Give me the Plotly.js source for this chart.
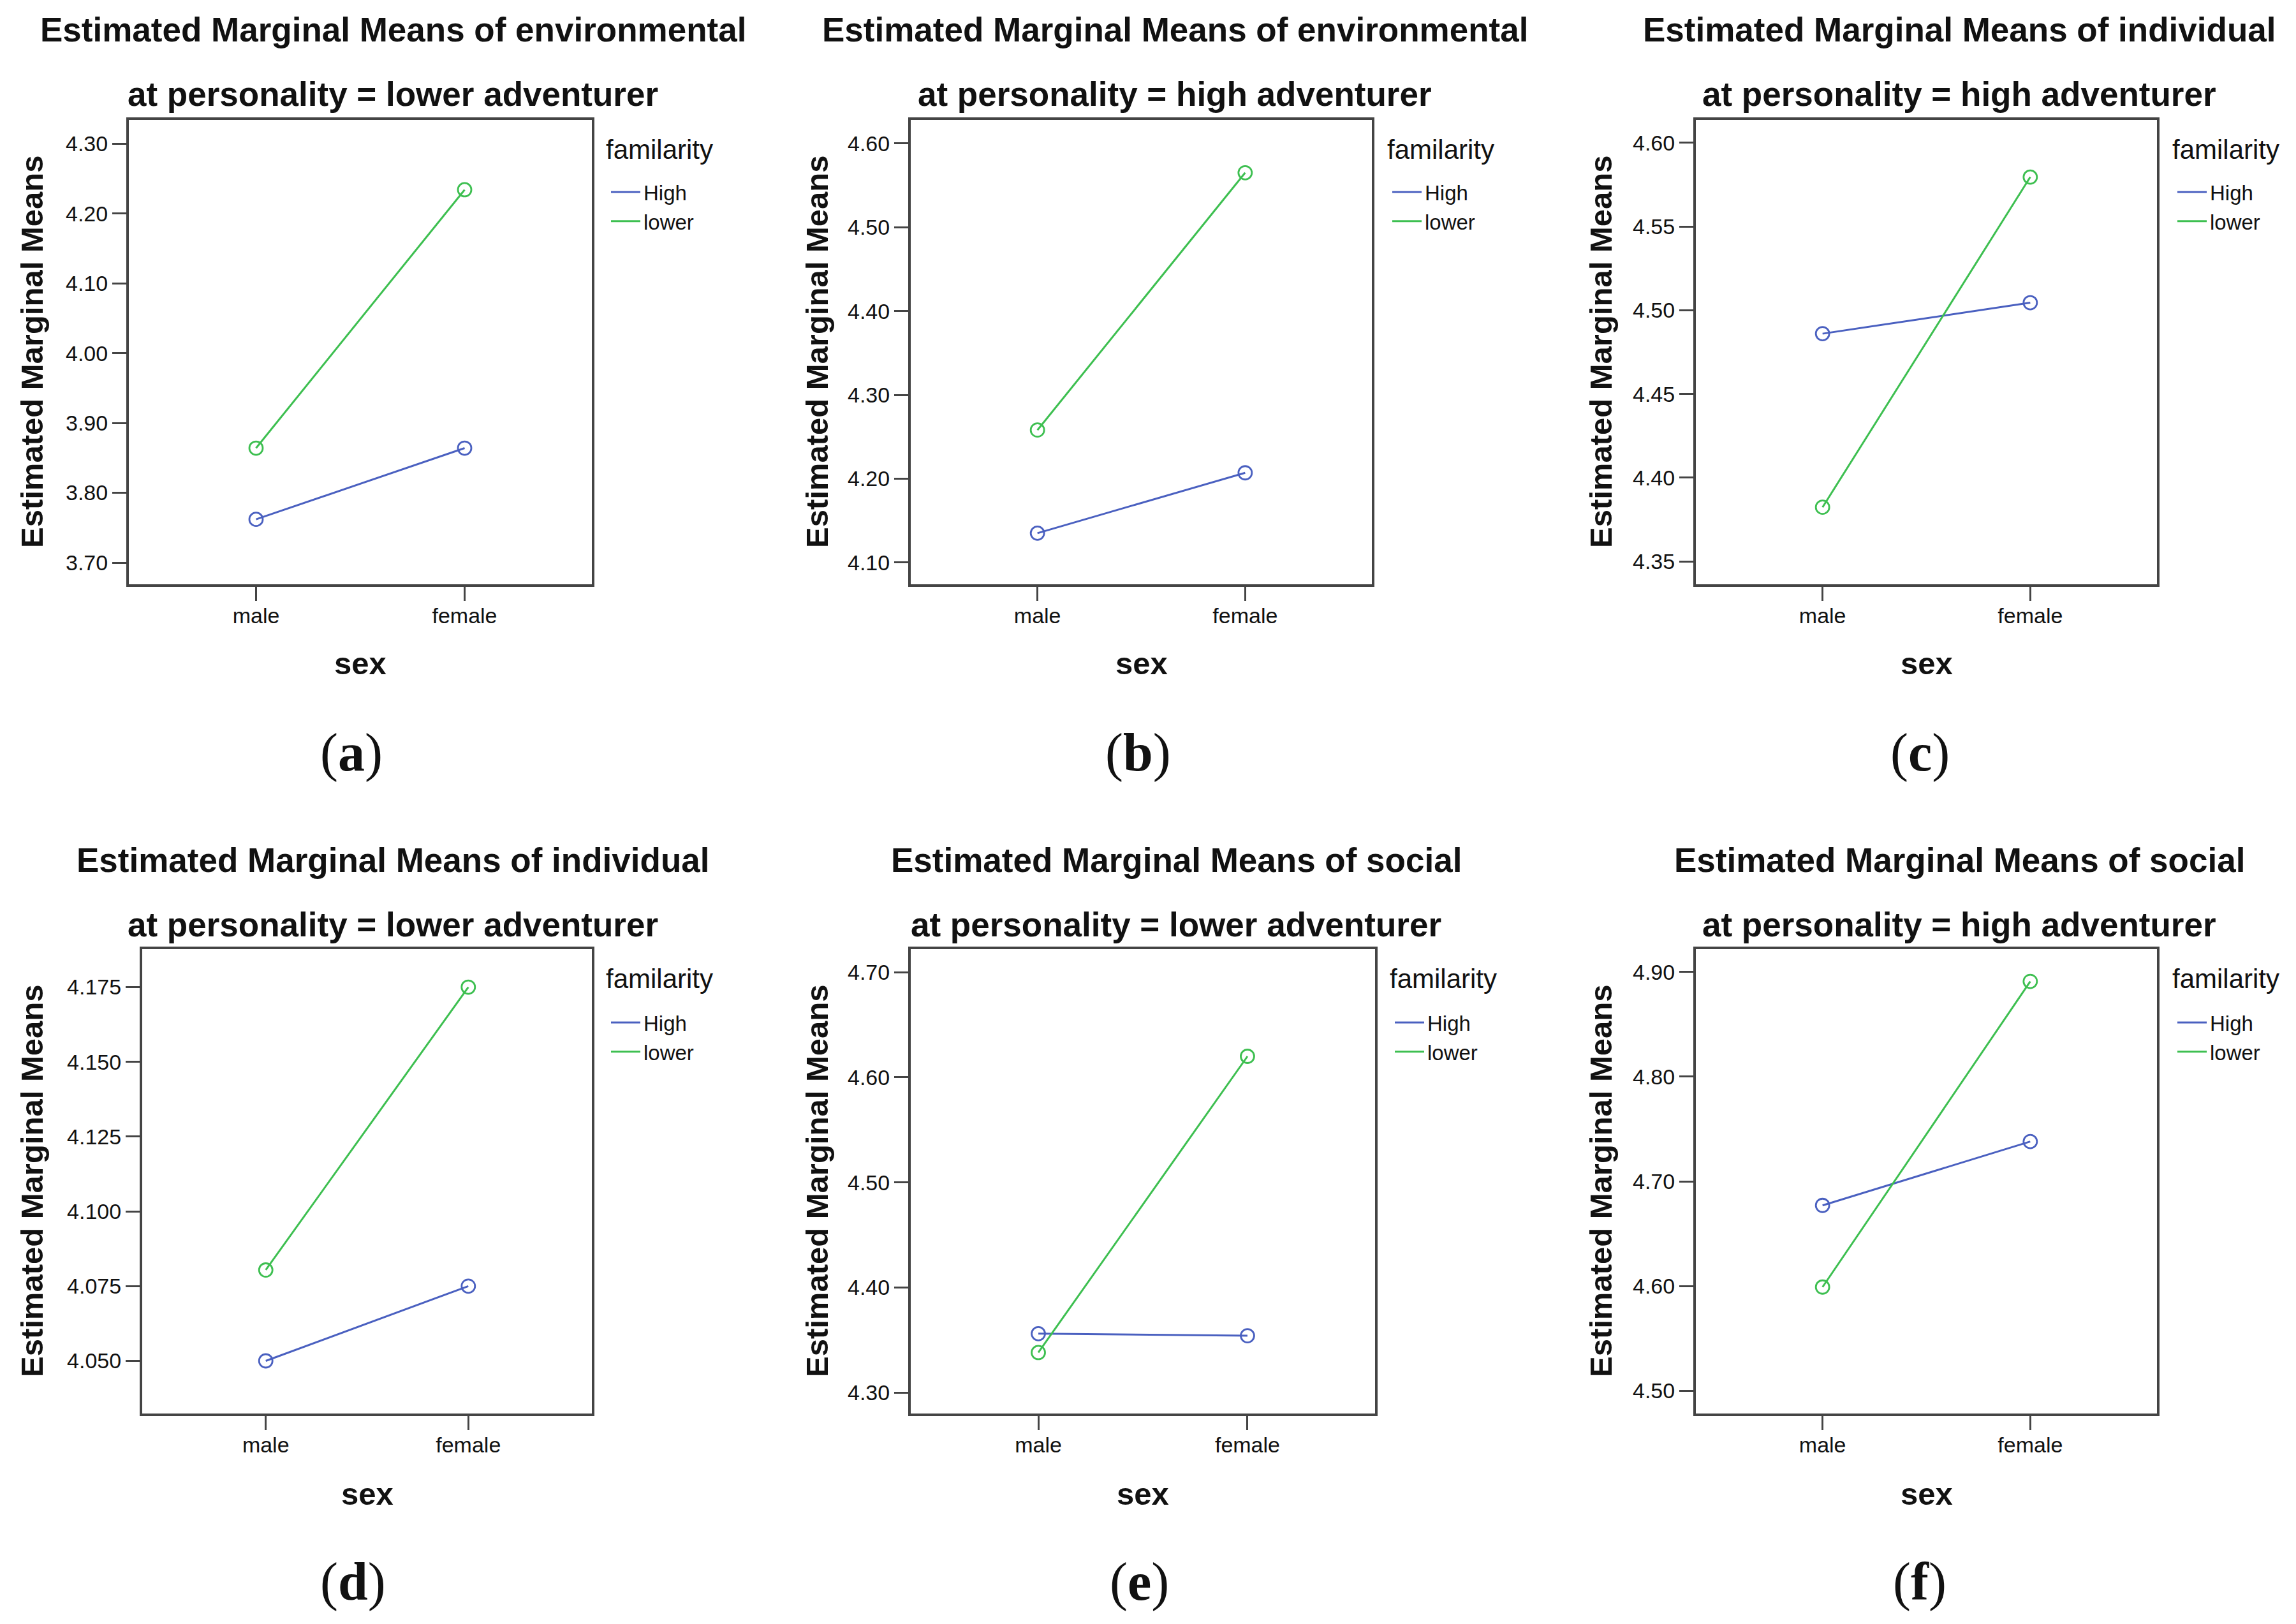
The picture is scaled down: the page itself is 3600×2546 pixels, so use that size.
<!DOCTYPE html>
<html>
<head>
<meta charset="utf-8">
<script src="https://cdn.plot.ly/plotly-3.0.1.min.js"></script>
<style>html,body{margin:0;padding:0;background:#fff}#chart{width:3600px;height:2546px}</style>
</head>
<body>
<div id="chart"></div>
<script>
// ---------------- DATA ----------------
const sexCategories = ['male', 'female'];
const seriesNames = ['High', 'lower'];
const legendTitle = 'familarity';

const titleLine1 = [
  'Estimated Marginal Means of environmental',
  'Estimated Marginal Means of environmental',
  'Estimated Marginal Means of individual',
  'Estimated Marginal Means of individual',
  'Estimated Marginal Means of social',
  'Estimated Marginal Means of social'
];
const titleLine2 = [
  'at personality = lower adventurer',
  'at personality = high adventurer',
  'at personality = high adventurer',
  'at personality = lower adventurer',
  'at personality = lower adventurer',
  'at personality = high adventurer'
];
const panelLabels = ['a', 'b', 'c', 'd', 'e', 'f'];

// familiarity = High
const highA = [3.762, 3.864];
const highB = [4.135, 4.207];
const highC = [4.486, 4.5045];
const highD = [4.050, 4.075];
const highE = [4.356, 4.354];
const highF = [4.677, 4.738];
// familiarity = lower
const lowerA = [3.864, 4.234];
const lowerB = [4.258, 4.565];
const lowerC = [4.3824, 4.5795];
const lowerD = [4.0804, 4.175];
const lowerE = [4.338, 4.620];
const lowerF = [4.599, 4.891];

// y tick values
const yTicksA = [3.70, 3.80, 3.90, 4.00, 4.10, 4.20, 4.30];
const yTicksB = [4.10, 4.20, 4.30, 4.40, 4.50, 4.60];
const yTicksC = [4.35, 4.40, 4.45, 4.50, 4.55, 4.60];
const yTicksD = [4.050, 4.075, 4.100, 4.125, 4.150, 4.175];
const yTicksE = [4.30, 4.40, 4.50, 4.60, 4.70];
const yTicksF = [4.50, 4.60, 4.70, 4.80, 4.90];

const yTickFormats = ['.2f', '.2f', '.2f', '.3f', '.2f', '.2f'];
const yRanges = [
  [3.669, 4.334], [4.074, 4.628], [4.3364, 4.6136],
  [4.0324, 4.1877], [4.280, 4.722], [4.4782, 4.9218]
];

const highSeries = [highA, highB, highC, highD, highE, highF];
const lowerSeries = [lowerA, lowerB, lowerC, lowerD, lowerE, lowerF];
const yTickSets = [yTicksA, yTicksB, yTicksC, yTicksD, yTicksE, yTicksF];

// ---------------- LAYOUT ----------------
const W = 3600, H = 2546;
const px = v => v / W;
const py = v => 1 - v / H;

// plot boxes in page pixels
const boxes = [
  {x0: 202, x1: 928, y0: 188, y1: 916},
  {x0: 1428, x1: 2151, y0: 188, y1: 916},
  {x0: 2659, x1: 3382, y0: 188, y1: 916},
  {x0: 223, x1: 928, y0: 1488, y1: 2216},
  {x0: 1428, x1: 2156, y0: 1488, y1: 2216},
  {x0: 2659, x1: 3382, y0: 1488, y1: 2216}
];
const titleCx = [616, 1842, 3072, 616, 1844, 3072];
const yTitleCx = [50, 1281, 2510, 50, 1281, 2510];
const labelCx = [551, 1784, 3010, 553, 1786, 3010];
const legendX = [953, 2178, 3409, 953, 2182, 3409];

const colors = {High: '#4a60c0', lower: '#3dbf50'};
const sansFont = '"Liberation Sans", Arial, sans-serif';

const data = [];
const layout = {
  width: W, height: H,
  margin: {l: 0, r: 0, t: 0, b: 0},
  paper_bgcolor: '#ffffff',
  plot_bgcolor: '#ffffff',
  showlegend: true,
  font: {family: sansFont, color: '#111'},
  annotations: []
};

for (let i = 0; i < 6; i++) {
  const n = i + 1;
  const xa = n === 1 ? 'x' : 'x' + n;
  const ya = n === 1 ? 'y' : 'y' + n;
  const lg = n === 1 ? 'legend' : 'legend' + n;
  const b = boxes[i];
  const row2 = i >= 3;

  const seriesList = [highSeries[i], lowerSeries[i]];
  seriesNames.forEach((name, k) => {
    data.push({
      type: 'scatter', mode: 'lines', x: sexCategories, y: seriesList[k],
      xaxis: xa, yaxis: ya, name: name, legend: lg, showlegend: true,
      line: {color: colors[name], width: 3}, hoverinfo: 'skip'
    });
  });
  seriesNames.forEach((name, k) => {
    data.push({
      type: 'scatter', mode: 'markers', x: sexCategories, y: seriesList[k],
      xaxis: xa, yaxis: ya, name: name, showlegend: false,
      marker: {symbol: 'circle-open', size: 21, color: colors[name], line: {width: 2.8, color: colors[name]}},
      hoverinfo: 'skip'
    });
  });

  const axKeyX = n === 1 ? 'xaxis' : 'xaxis' + n;
  const axKeyY = n === 1 ? 'yaxis' : 'yaxis' + n;
  layout[axKeyX] = {
    domain: [px(b.x0), px(b.x1)], anchor: ya,
    type: 'category', range: [-0.61, 1.61],
    showgrid: false, zeroline: false,
    showline: true, mirror: true, linecolor: '#444', linewidth: 4,
    ticks: 'outside', ticklen: 22, tickwidth: 3, tickcolor: '#444',
    ticklabelstandoff: -6,
    tickfont: {family: sansFont, size: 34, color: '#111'},
    fixedrange: true
  };
  layout[axKeyY] = {
    domain: [py(b.y1), py(b.y0)], anchor: xa,
    range: yRanges[i], tickvals: yTickSets[i], tickformat: yTickFormats[i],
    showgrid: false, zeroline: false,
    showline: true, mirror: true, linecolor: '#444', linewidth: 4,
    ticks: 'outside', ticklen: 22, tickwidth: 3, tickcolor: '#444',
    tickfont: {family: sansFont, size: 34, color: '#111'},
    fixedrange: true
  };
  layout[lg] = {
    x: px(legendX[i]), y: py(row2 ? 1575 : 273), xanchor: 'left', yanchor: 'top',
    bgcolor: 'rgba(0,0,0,0)', borderwidth: 0,
    font: {family: sansFont, size: 33, color: '#111'},
    itemwidth: 46, tracegroupgap: 0
  };
  // legend title
  layout.annotations.push({
    xref: 'paper', yref: 'paper', x: px(legendX[i] - 5), y: py(row2 ? 1534 : 234),
    xanchor: 'left', yanchor: 'middle', showarrow: false,
    text: legendTitle,
    font: {family: sansFont, size: 42, color: '#111'}
  });

  const t1y = row2 ? 1348 : 46;
  const t2y = row2 ? 1449 : 147;
  layout.annotations.push({
    xref: 'paper', yref: 'paper', x: px(titleCx[i]), y: py(t1y),
    xanchor: 'center', yanchor: 'middle', showarrow: false,
    text: '<b>' + titleLine1[i] + '</b>',
    font: {family: sansFont, size: 53, color: '#111'}
  });
  layout.annotations.push({
    xref: 'paper', yref: 'paper', x: px(titleCx[i]), y: py(t2y),
    xanchor: 'center', yanchor: 'middle', showarrow: false,
    text: '<b>' + titleLine2[i] + '</b>',
    font: {family: sansFont, size: 53, color: '#111'}
  });
  // y axis title
  layout.annotations.push({
    xref: 'paper', yref: 'paper', x: px(yTitleCx[i]), y: py((b.y0 + b.y1) / 2),
    xanchor: 'center', yanchor: 'middle', showarrow: false, textangle: -90,
    text: '<b>Estimated Marginal Means</b>',
    font: {family: sansFont, size: 49, color: '#111'}
  });
  // x axis title
  layout.annotations.push({
    xref: 'paper', yref: 'paper', x: px((b.x0 + b.x1) / 2), y: py(row2 ? 2342 : 1040),
    xanchor: 'center', yanchor: 'middle', showarrow: false,
    text: '<b>sex</b>',
    font: {family: sansFont, size: 49, color: '#111'}
  });
  // panel label
  layout.annotations.push({
    xref: 'paper', yref: 'paper', x: px(labelCx[i]), y: py(row2 ? 2480 : 1180),
    xanchor: 'center', yanchor: 'middle', showarrow: false,
    text: '(<b>' + panelLabels[i] + '</b>)',
    font: {family: '"Liberation Serif", "Times New Roman", serif', size: 84, color: '#111'}
  });
}

Plotly.newPlot('chart', data, layout, {staticPlot: true, displayModeBar: false});
</script>
</body>
</html>
